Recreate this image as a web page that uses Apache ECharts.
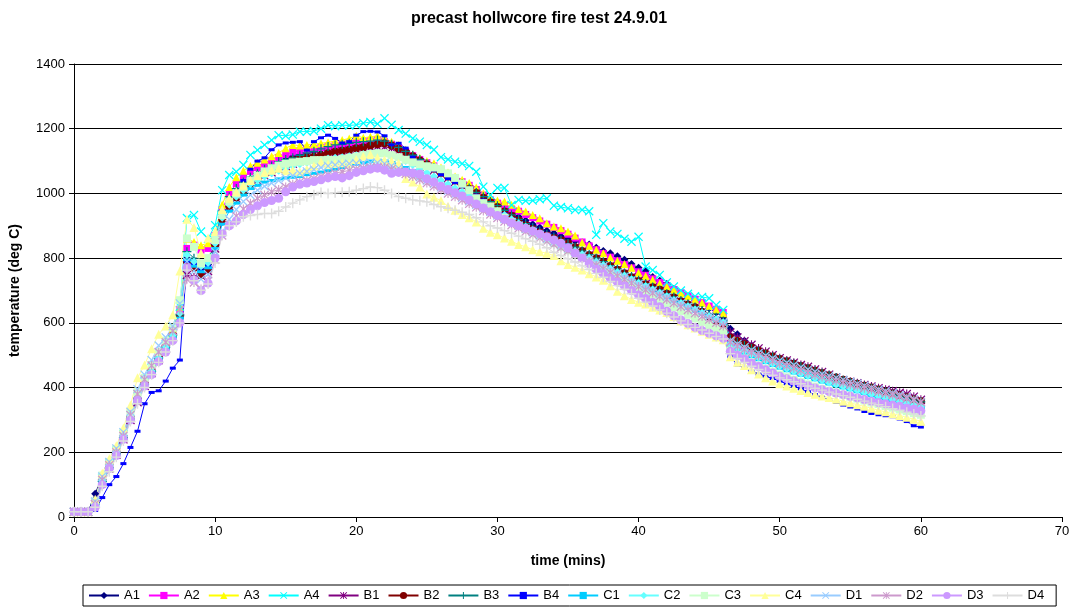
<!DOCTYPE html>
<html>
<head>
<meta charset="utf-8">
<script src="https://cdn.jsdelivr.net/npm/echarts/dist/echarts.min.js"></script>
<style>
html,body{margin:0;padding:0;background:#fff;}
#chart{width:1078px;height:611px;}
</style>
</head>
<body>
<div id="chart"></div>
<script>
const times = [
0,0.5,1,1.5,2,2.5,3,3.5,4,4.5,
5,5.5,6,6.5,7,7.5,8,8.5,9,9.5,
10,10.5,11,11.5,12,12.5,13,13.5,14,14.5,
15,15.5,16,16.5,17,17.5,18,18.5,19,19.5,
20,20.5,21,21.5,22,22.5,23,23.5,24,24.5,
25,25.5,26,26.5,27,27.5,28,28.5,29,29.5,
30,30.5,31,31.5,32,32.5,33,33.5,34,34.5,
35,35.5,36,36.5,37,37.5,38,38.5,39,39.5,
40,40.5,41,41.5,42,42.5,43,43.5,44,44.5,
45,45.5,46,46.5,47,47.5,48,48.5,49,49.5,
50,50.5,51,51.5,52,52.5,53,53.5,54,54.5,
55,55.5,56,56.5,57,57.5,58,58.5,59,59.5,
60];

const seriesNames = ['A1','A2','A3','A4','B1','B2','B3','B4','C1','C2','C3','C4','D1','D2','D3','D4'];

const A1 = [
16,16,16,72,125,165,205,252,310,365,
412,452,495,528,565,630,800,790,760,780,
850,935,985,1005,1025,1045,1060,1072,1085,1095,
1105,1115,1120,1125,1130,1135,1140,1142,1145,1148,
1150,1155,1158,1160,1158,1150,1140,1130,1118,1105,
1093,1080,1068,1055,1043,1030,1018,1005,990,978,
965,952,940,928,916,905,895,885,877,868,
860,853,848,842,832,822,815,806,795,782,
770,760,742,730,720,705,692,680,670,658,
645,632,618,582,565,545,530,516,506,497,
488,482,475,466,456,447,436,425,418,410,
402,396,390,383,378,372,366,360,354,348,
342];
const A2 = [
16,16,16,45,115,160,200,250,310,368,
415,455,498,532,570,640,830,840,825,830,
870,950,1000,1030,1050,1068,1080,1090,1100,1110,
1120,1128,1132,1135,1138,1142,1145,1148,1152,1155,
1158,1160,1162,1165,1160,1152,1142,1130,1117,1105,
1095,1085,1073,1060,1048,1036,1025,1012,995,980,
970,962,952,945,935,925,915,905,895,885,
874,862,850,838,826,814,803,792,780,770,
758,747,736,725,714,703,693,683,673,663,
652,642,632,548,540,530,520,510,501,493,
485,477,470,462,455,447,440,433,426,420,
413,407,401,395,389,383,377,371,365,360,
354];
const A3 = [
16,16,16,50,120,165,205,255,315,375,
420,462,505,540,580,650,860,850,840,846,
880,965,1020,1050,1070,1085,1095,1105,1115,1125,
1140,1150,1148,1150,1152,1155,1158,1162,1165,1170,
1178,1172,1175,1178,1172,1160,1150,1135,1120,1110,
1100,1093,1080,1065,1052,1042,1032,1018,1000,988,
978,975,965,952,944,933,923,908,898,892,
882,870,848,838,826,815,802,792,782,770,
755,745,733,722,712,702,692,683,672,662,
652,641,630,562,552,540,528,518,508,499,
490,482,474,466,458,450,442,435,428,421,
414,408,402,396,390,384,378,372,366,360,
354];
const A4 = [
16,16,16,45,120,165,205,255,315,380,
420,460,500,535,575,650,924,933,882,860,
902,1010,1057,1067,1088,1119,1134,1150,1165,1180,
1178,1182,1191,1191,1193,1200,1211,1208,1211,1210,
1212,1217,1221,1215,1232,1212,1196,1185,1170,1160,
1150,1135,1112,1105,1098,1092,1085,1067,1021,995,
1017,1017,964,980,977,978,982,985,962,958,
954,949,949,945,872,908,882,875,860,851,
866,774,763,748,725,712,700,690,682,680,
676,655,640,548,536,525,514,504,495,487,
479,472,465,458,451,444,437,430,424,418,
412,406,400,394,388,382,376,370,364,358,
352];
const B1 = [
16,16,16,40,105,150,192,240,300,355,
405,445,485,520,555,610,748,740,746,760,
830,915,960,985,1005,1025,1040,1055,1065,1075,
1085,1092,1100,1105,1110,1115,1120,1125,1130,1132,
1136,1140,1142,1145,1144,1140,1130,1120,1108,1096,
1084,1072,1060,1048,1036,1024,1012,999,985,970,
956,942,928,912,898,886,876,868,860,852,
842,832,820,808,797,786,775,764,752,741,
730,720,709,698,686,674,663,652,641,630,
619,609,600,570,555,543,532,521,511,500,
491,484,477,470,464,456,448,440,431,423,
418,413,408,403,398,393,389,384,380,372,
362];
const B2 = [
16,16,16,45,112,152,196,246,302,360,
410,450,490,525,560,620,790,770,748,765,
840,920,962,988,1008,1028,1045,1060,1072,1085,
1095,1103,1107,1110,1113,1118,1124,1129,1132,1135,
1140,1143,1148,1152,1155,1148,1138,1128,1115,1102,
1090,1077,1064,1052,1040,1027,1014,1001,987,972,
958,944,930,916,902,890,880,870,862,855,
846,834,822,810,800,788,776,764,753,741,
729,719,710,702,690,678,667,657,648,634,
620,606,593,555,544,534,524,514,505,496,
488,481,474,467,460,452,445,438,431,424,
418,412,406,400,394,388,382,376,370,364,
358];
const B3 = [
16,16,16,40,110,152,195,245,305,362,
410,450,492,525,562,625,820,800,780,790,
860,945,990,1015,1035,1050,1062,1075,1085,1098,
1105,1110,1118,1125,1130,1138,1145,1150,1152,1155,
1158,1160,1162,1165,1162,1152,1142,1130,1118,1105,
1092,1080,1067,1054,1042,1030,1017,1003,990,975,
962,948,934,920,907,895,884,874,865,856,
845,834,822,811,800,789,777,766,754,743,
732,721,711,701,690,680,669,659,649,638,
627,617,606,550,540,530,521,512,503,495,
487,480,473,466,458,451,444,437,430,423,
416,410,404,398,392,386,380,374,368,362,
356];
const B4 = [
16,16,16,20,60,100,125,165,215,265,
350,385,390,420,460,485,790,780,760,775,
850,930,975,1005,1040,1075,1100,1110,1135,1150,
1156,1158,1160,1134,1160,1172,1180,1170,1156,1160,
1180,1191,1192,1190,1178,1150,1155,1140,1112,1098,
1085,1072,1058,1046,1034,1021,1008,995,980,965,
950,937,922,908,895,883,872,862,853,844,
834,823,812,801,790,779,768,757,746,735,
725,714,704,694,683,673,662,652,642,632,
622,612,602,495,470,460,450,442,435,428,
420,412,404,396,387,378,370,362,354,346,
340,334,326,320,316,313,310,303,295,282,
278];
const C1 = [
16,16,16,38,105,150,192,242,300,360,
408,448,488,520,555,615,795,775,758,770,
830,905,945,970,995,1015,1025,1035,1040,1045,
1048,1050,1052,1058,1062,1066,1070,1075,1080,1085,
1090,1095,1100,1102,1100,1095,1088,1080,1070,1060,
1050,1038,1026,1015,1003,992,980,968,956,945,
933,922,911,900,890,880,870,860,850,840,
829,818,807,796,785,774,763,752,741,730,
719,708,698,688,678,667,656,646,636,626,
616,606,598,528,516,505,495,486,477,468,
460,452,445,438,431,424,417,411,405,399,
393,387,381,375,370,364,358,353,348,342,
337];
const C2 = [
16,16,16,42,112,155,198,248,306,365,
412,452,492,526,562,630,810,790,775,785,
845,925,965,990,1010,1028,1040,1052,1062,1070,
1078,1085,1090,1095,1100,1104,1108,1110,1112,1115,
1118,1122,1125,1126,1125,1118,1110,1100,1088,1076,
1064,1052,1040,1028,1017,1005,995,982,970,958,
946,933,920,908,897,886,875,865,855,845,
834,823,812,801,790,779,768,757,746,735,
724,714,703,693,682,671,661,651,641,631,
621,611,602,535,523,512,502,492,483,474,
466,458,450,443,436,429,422,415,409,403,
397,391,385,379,373,368,362,356,351,345,
340];
const C3 = [
16,16,16,48,128,170,210,260,320,385,
430,470,510,545,585,670,861,835,784,800,
856,933,975,1000,1020,1040,1055,1068,1078,1086,
1092,1096,1098,1100,1103,1103,1104,1103,1106,1110,
1114,1118,1122,1124,1124,1118,1112,1104,1096,1090,
1084,1080,1075,1062,1048,1030,1010,985,970,960,
945,925,912,900,890,880,870,858,846,835,
824,812,800,789,778,766,754,742,730,718,
706,694,683,672,660,648,636,625,614,603,
593,583,574,515,502,490,478,468,458,449,
440,432,424,417,410,403,396,390,384,378,
372,366,360,354,349,343,338,332,327,321,
316];
const C4 = [
16,16,16,55,135,180,220,275,345,430,
470,520,565,590,625,760,920,895,815,862,
882,950,985,1005,1025,1040,1055,1065,1072,1078,
1070,1072,1067,1075,1085,1098,1090,1093,1095,1093,
1105,1115,1120,1110,1103,1100,1093,1046,1035,1020,
998,988,978,960,948,935,925,912,892,880,
872,862,852,842,835,826,820,815,808,792,
780,772,763,752,742,732,715,698,684,672,
664,658,648,640,632,620,606,594,584,574,
565,556,548,495,478,468,455,442,430,420,
412,405,398,391,385,379,374,369,364,358,
353,347,342,336,330,325,319,314,308,302,
296];
const D1 = [
16,16,16,48,125,170,212,262,325,395,
440,485,530,555,590,660,790,760,735,750,
820,880,920,950,975,995,1010,1022,1032,1040,
1048,1055,1062,1068,1074,1080,1085,1088,1090,1092,
1093,1094,1095,1095,1092,1085,1078,1070,1060,1050,
1040,1030,1019,1008,998,987,976,965,954,943,
932,921,911,900,890,880,870,860,850,840,
830,819,808,797,786,775,764,753,742,731,
720,710,700,690,680,670,660,650,640,630,
620,610,600,545,535,525,516,507,499,491,
484,477,470,463,456,449,442,436,430,424,
418,412,406,400,394,389,383,377,371,364,
356];
const D2 = [
16,16,16,40,115,160,200,250,315,380,
425,468,510,540,575,640,735,725,705,730,
795,870,905,930,952,970,985,995,1005,1012,
1020,1028,1035,1040,1046,1052,1058,1063,1067,1071,
1075,1078,1080,1082,1080,1075,1068,1060,1052,1042,
1032,1022,1011,1000,990,979,968,957,946,935,
924,913,902,892,882,872,862,852,842,832,
822,811,800,789,778,767,756,745,734,723,
712,702,692,682,672,661,650,640,630,620,
610,600,590,540,528,518,508,498,490,482,
474,467,460,453,446,439,433,427,421,415,
409,404,398,393,387,382,377,372,366,361,
355];
const D3 = [
16,16,16,30,100,150,190,240,300,360,
405,440,480,510,545,600,770,732,700,723,
800,875,900,915,935,950,962,972,978,985,
1005,1020,1028,1032,1037,1042,1048,1052,1048,1055,
1065,1070,1075,1078,1072,1062,1065,1066,1063,1060,
1045,1035,1022,1012,1002,992,980,967,955,943,
932,920,909,900,892,884,875,866,856,846,
832,815,800,783,766,752,738,726,714,700,
686,675,663,650,636,622,609,598,586,576,
568,560,552,512,500,488,475,465,455,445,
435,427,420,413,406,399,393,388,383,378,
373,368,363,358,354,350,346,342,337,333,
328];
const D4 = [
16,16,16,30,95,140,185,235,295,350,
400,440,478,510,545,600,763,730,701,720,
785,870,900,912,928,932,935,938,938,945,
958,970,980,990,996,1003,1000,1002,1004,1005,
1010,1015,1020,1018,1010,1000,990,985,980,977,
974,966,959,954,948,942,935,925,912,900,
893,885,877,868,860,852,843,832,818,808,
798,788,776,765,753,741,728,715,704,690,
676,664,652,640,630,618,606,595,586,578,
568,558,550,505,490,478,466,456,447,438,
430,424,418,412,405,398,392,386,380,375,
370,364,358,352,347,341,335,330,324,318,
312];

const xTicks = [0,10,20,30,40,50,60,70];
const yTicks = [0,200,400,600,800,1000,1200,1400];

const values = [A1,A2,A3,A4,B1,B2,B3,B4,C1,C2,C3,C4,D1,D2,D3,D4];

const CROSS = 'path://M0,1L1,0L5,4L9,0L10,1L6,5L10,9L9,10L5,6L1,10L0,9L4,5Z';
const PLUS = 'path://M4.3,0H5.7V4.3H10V5.7H5.7V10H4.3V5.7H0V4.3H4.3Z';
const STAR = 'path://M0,1L1,0L5,4L9,0L10,1L6,5L10,9L9,10L5,6L1,10L0,9L4,5ZM4.4,0H5.6V10H4.4Z';

const styles = [
  {color:'#000080', symbol:'diamond', size:8},
  {color:'#FF00FF', symbol:'rect', size:7},
  {color:'#FFFF00', symbol:'triangle', size:8},
  {color:'#00FFFF', symbol:CROSS, size:9},
  {color:'#800080', symbol:STAR, size:9},
  {color:'#800000', symbol:'circle', size:8},
  {color:'#008080', symbol:PLUS, size:9},
  {color:'#0000FF', symbol:'rect', size:[6,3]},
  {color:'#00CCFF', symbol:'rect', size:[8,3]},
  {color:'#66FFFF', symbol:'diamond', size:8},
  {color:'#CCFFCC', symbol:'rect', size:8},
  {color:'#FFFF99', symbol:'triangle', size:9},
  {color:'#99CCFF', symbol:CROSS, size:9},
  {color:'#CC99CC', symbol:STAR, size:9},
  {color:'#CC99FF', symbol:'circle', size:9},
  {color:'#DDDDDD', symbol:PLUS, size:10}
];

const FONT = '"Liberation Sans", Arial, sans-serif';

const series = seriesNames.map((name, k) => ({
  name: name,
  type: 'line',
  data: times.map((t, i) => [t, values[k][i]]),
  symbol: styles[k].symbol,
  symbolSize: styles[k].size,
  showSymbol: true,
  color: styles[k].color,
  itemStyle: {color: styles[k].color, borderWidth: 0},
  lineStyle: {color: styles[k].color, width: 1},
  emphasis: {disabled: true},
  animation: false
}));

const chart = echarts.init(document.getElementById('chart'), null, {renderer: 'canvas'});
chart.setOption({
  backgroundColor: '#ffffff',
  animation: false,
  title: {
    text: 'precast hollwcore fire test 24.9.01',
    left: 'center',
    top: 6,
    textStyle: {fontFamily: FONT, fontSize: 16, fontWeight: 'bold', color: '#000'}
  },
  grid: {left: 74, top: 64, width: 988, height: 453, containLabel: false},
  xAxis: {
    type: 'value',
    min: xTicks[0], max: xTicks[xTicks.length-1], interval: 10,
    name: 'time (mins)',
    nameLocation: 'middle',
    nameGap: 37,
    nameTextStyle: {fontFamily: FONT, fontSize: 14, fontWeight: 'bold', color: '#000'},
    axisLine: {show: true, onZero: false, lineStyle: {color: '#000', width: 1}},
    axisTick: {show: true, inside: false, length: 5, lineStyle: {color: '#000'}},
    axisLabel: {fontFamily: FONT, fontSize: 13, color: '#000', margin: 8, formatter: v => String(v)},
    splitLine: {show: false}
  },
  yAxis: {
    type: 'value',
    min: yTicks[0], max: yTicks[yTicks.length-1], interval: 200,
    name: 'temperature (deg C)',
    nameLocation: 'middle',
    nameGap: 52,
    nameTextStyle: {fontFamily: FONT, fontSize: 14, fontWeight: 'bold', color: '#000'},
    axisLine: {show: true, lineStyle: {color: '#000', width: 1}},
    axisTick: {show: true, inside: false, length: 5, lineStyle: {color: '#000'}},
    axisLabel: {fontFamily: FONT, fontSize: 13, color: '#000', margin: 9, formatter: v => String(v)},
    splitLine: {show: true, lineStyle: {color: '#000', width: 1}}
  },
  legend: {
    data: seriesNames,
    left: 83,
    top: 585,
    orient: 'horizontal',
    itemWidth: 30,
    itemHeight: 9,
    itemGap: 8,
    padding: [4, 12, 4, 5],
    borderColor: '#000',
    borderWidth: 1,
    textStyle: {fontFamily: FONT, fontSize: 13, color: '#000'},
    selectedMode: false
  },
  series: series
});
</script>
</body>
</html>
